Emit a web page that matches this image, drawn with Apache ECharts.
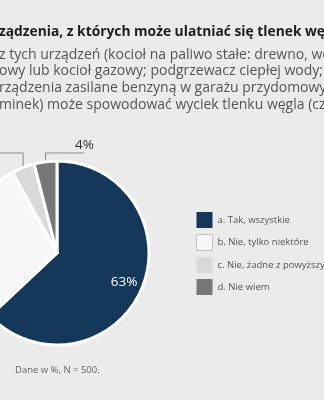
<!DOCTYPE html>
<html>
<head>
<meta charset="utf-8">
<script src="https://cdn.jsdelivr.net/npm/echarts@6/dist/echarts.min.js"></script>
<style>
  html, body { margin: 0; padding: 0; background: #ebebeb; }
  #chart { width: 324px; height: 400px; }
</style>
</head>
<body>
<div id="chart"></div>
<script>
    // dane z wykresu
    var categories = ['a. Tak, wszystkie', 'b. Nie, tylko niektóre', 'c. Nie, żadne z powyższych', 'd. Nie wiem'];
    var values = [63, 29, 4, 4];
    var titleLines = [
        'ządzenia, z których może ulatniać się tlenek węgla?',
        'z tych urządzeń (kocioł na paliwo stałe: drewno, węgiel;',
        'owy lub kocioł gazowy; podgrzewacz ciepłej wody;',
        'rządzenia zasilane benzyną w garażu przydomowym',
        'minek) może spowodować wyciek tlenku węgla (czadu)?'
    ];
    var note = 'Dane w %, N = 500.';

    var palette = ['#15375a', '#f7f7f7', '#d9d9d9', '#777777'];
    var insideLabel = [true, true, false, false];
    var cx = 57, cy = 253, radius = 92;
    var font = '"Open Sans", "DejaVu Sans", sans-serif';

    var chart = echarts.init(document.getElementById('chart'));

    var seriesData = categories.map(function (name, i) {
        return {
            name: name,
            value: values[i],
            itemStyle: { color: palette[i] },
            label: {
                position: insideLabel[i] ? 'inside' : 'outside',
                color: i === 0 ? '#ffffff' : '#333333'
            },
            labelLine: { show: !insideLabel[i] }
        };
    });

    var legendData = categories.map(function (name, i) {
        return {
            name: name,
            itemStyle: i === 1 ? { borderColor: '#c4c4c4', borderWidth: 1 } : { borderWidth: 0 }
        };
    });

    var yLines = [35, 58, 74, 91, 108];
    var graphics = titleLines.map(function (t, i) {
        return {
            type: 'text',
            left: -1,
            top: yLines[i] - 10,
            style: {
                text: t,
                fill: i === 0 ? '#1d1d1d' : '#555555',
                font: (i === 0 ? 'bold 13.8px ' : '14px ') + font
            }
        };
    });
    graphics.push({
        type: 'text',
        left: 15,
        top: 365,
        style: { text: note, fill: '#666666', font: '9.5px ' + font }
    });

    var lineTop = cy - radius - 8;

    chart.setOption({
        backgroundColor: '#ebebeb',
        animation: false,
        graphic: graphics,
        legend: {
            orient: 'vertical',
            left: 196,
            top: 212,
            padding: 0,
            itemWidth: 16,
            itemHeight: 16,
            itemGap: 6,
            icon: 'rect',
            data: legendData,
            selectedMode: false,
            textStyle: { fontSize: 9.5, color: '#555555', fontFamily: font }
        },
        series: [{
            type: 'pie',
            center: [cx, cy],
            radius: [0, radius],
            startAngle: 90,
            clockwise: true,
            avoidLabelOverlap: false,
            itemStyle: { borderColor: '#ffffff', borderWidth: 3 },
            label: {
                show: true,
                formatter: '{c}%',
                fontSize: 13.5,
                fontFamily: font
            },
            labelLine: { show: true, lineStyle: { color: '#8a8a8a', width: 1 } },
            // etykiety wewnątrz dalej od środka, linie: pionowo w górę i poziomo
            labelLayout: function (p) {
                var i = p.dataIndex;
                var r = p.labelRect;
                if (insideLabel[i]) {
                    var lx = r.x + r.width / 2 - cx;
                    var ly = r.y + r.height / 2 - cy;
                    var k = 73 / Math.sqrt(lx * lx + ly * ly);
                    return { x: cx + lx * k, y: cy + ly * k, align: 'center', verticalAlign: 'middle' };
                }
                var pts = p.labelLinePoints;
                if (!pts) return;
                var x0 = pts[0][0], y0 = pts[0][1];
                var dir = i === 3 ? 1 : -1;
                var xEnd = x0 + dir * 39;
                return {
                    x: xEnd,
                    y: lineTop - 1,
                    align: 'center',
                    verticalAlign: 'bottom',
                    labelLinePoints: [[x0, y0], [x0, lineTop], [xEnd, lineTop]]
                };
            },
            data: seriesData
        }]
    });
</script>
</body>
</html>
